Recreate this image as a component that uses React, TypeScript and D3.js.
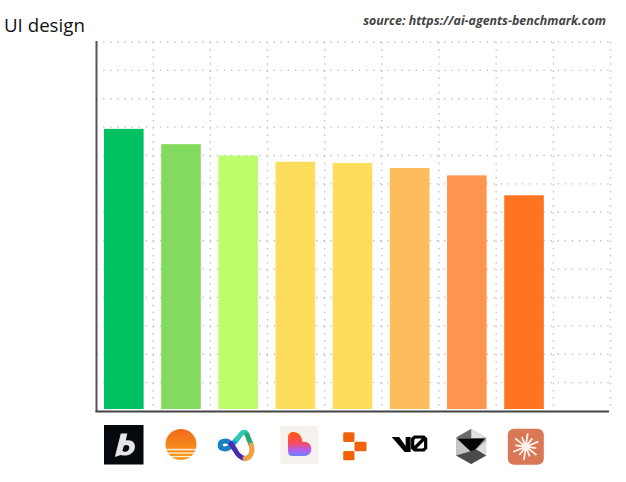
import * as d3 from "d3";
import React from "react";

const width = 626;
const height = 482;

const agents = ["bolt", "sonnet", "stitch", "lovable", "replit", "v0", "windsurf", "claude", ""];
const scores = [49.7, 47.0, 45.0, 43.9, 43.7, 42.8, 41.5, 38.0];
const colors = ["#00c162", "#84da5c", "#bdfd6c", "#ffdc5c", "#ffdc5c", "#ffbc5c", "#ff9450", "#ff7420"];
const yTicks = d3.range(0, 70, 5);

const x = d3.scaleBand().domain(agents).range([96, 609]).paddingInner(0.307).paddingOuter(0.14);
const step = x.step();
const gridX = d3.range(1, agents.length + 1).map((i) => 96 + i * step);
const y = d3.scaleLinear().domain([0, 65]).range([411, 42]);

const sunStripes = [[3.8, 1.5], [7.4, 1.3], [11, 1.1]];
const claudeRays = d3.range(0, 360, 30);

const Logo: React.FC<{ name: string }> = ({ name }) => {
    switch (name) {
        case "bolt":
            return (
                <g>
                    <rect x={-19.8} y={-20} width={39.5} height={39.5} fill="#05090d" />
                    <path
                        d="M-3,-11.5 L3.5,-11.5 L2,-4.5 C8,-6 12,-2 11,3 C10,9 3,12 -3,10 L-9,12 Z M0,1 L-1.5,6 C2,8 5,6 5.5,3 C6,0 2,-1 0,1 Z"
                        fill="#e6e6e6"
                        fillRule="evenodd"
                    />
                </g>
            );
        case "sonnet":
            return (
                <g>
                    <circle r={15.5} cy={-0.5} fill="url(#sun)" />
                    {sunStripes.map(([dy, h]) => (
                        <rect key={dy} x={-16} y={dy} width={32} height={h} fill="#fff" opacity={0.85} />
                    ))}
                </g>
            );
        case "stitch":
            return (
                <g fill="none" strokeWidth={5} strokeLinecap="round">
                    <path d="M-7,-1 C-10,-5 -18,-5 -18,0 C-18,5 -11,5 -7,1" stroke="#1b7fc4" />
                    <path d="M-7,1 L-1,-6" stroke="#1a9ccc" />
                    <path d="M-1,-6 L3,-11 C5,-14 8,-13 9,-10" stroke="#2cc8b0" />
                    <path d="M9,-10 L13,0" stroke="#2aa878" />
                    <path d="M-7,-1 L-3,5 C-1,9 2,13 7,13.5" stroke="#4a2cb0" />
                    <path d="M7,13.5 C13,13 15,6 13,0" stroke="#f2a040" />
                </g>
            );
        case "lovable":
            return (
                <g>
                    <rect x={-15} y={-19} width={38} height={38} fill="#f5f1ec" />
                    <path
                        d="M-2,-13 C3,-13 7,-9 7,-3 C12,-4 16,-1 16,4 C16,8 13,11 9,11 L-3,11 C-6,11 -7.3,9 -7.3,6 L-7.3,-8 C-7.3,-11 -5,-13 -2,-13 Z"
                        fill="url(#heart)"
                    />
                </g>
            );
        case "replit":
            return (
                <g fill="#f26207">
                    <rect x={-9.3} y={-12.7} width={11.3} height={9.6} rx={1.5} />
                    <rect x={2} y={-3.3} width={12} height={9.6} rx={1.5} />
                    <rect x={-9.3} y={6} width={11.3} height={9.2} rx={1.5} />
                </g>
            );
        case "v0":
            return (
                <g>
                    <path d="M-18,-8 L-10.5,-8 L-4,1 L-4,-8 L1,-8 L1,7 L-5,7 Z" fill="#000" />
                    <path
                        d="M5,-8 L14,-8 L16,-6 L16,3 L14,5 L5,5 L3,3 L3,-6 Z M5,3 L14,-6"
                        fill="none"
                        stroke="#000"
                        strokeWidth={3.2}
                    />
                </g>
            );
        case "windsurf":
            return (
                <g transform="translate(4.3,1.5)">
                    <path d="M0,-17.5 L15,-9 L15,9 L0,17.5 L-15,9 L-15,-9 Z" fill="#9a9a9a" />
                    <path d="M0,-17.5 L15,-9 L0,-8 Z" fill="#e2e2e2" />
                    <path d="M0,-17.5 L-15,-9 L0,-8 Z" fill="#6a6a6a" />
                    <path d="M-14,-8 L14,-8 L1,6.5 Z" fill="#050505" />
                    <path d="M-15,-8 L1,6.5 L-15,9 Z" fill="#c4c4c4" />
                    <path d="M15,-6 L15,9 L5,3 Z" fill="#dcdcdc" />
                    <path d="M-15,9 L5,3 L15,9 L0,17.5 Z" fill="#4a4a4a" />
                </g>
            );
        case "claude":
            return (
                <g transform="translate(1.8,1.7)">
                    <rect x={-18} y={-18} width={36} height={36} rx={6} fill="#d97757" />
                    {claudeRays.map((a, i) => (
                        <line
                            key={a}
                            y1={-3}
                            y2={i % 2 ? -10.5 : -13.5}
                            stroke="#fdf3ec"
                            strokeWidth={1.8}
                            transform={`rotate(${a + 8})`}
                        />
                    ))}
                    <circle r={4} fill="#fdf3ec" />
                </g>
            );
        default:
            return null;
    }
};

export default function App() {
    const logos = agents.filter((a) => a !== "");
    return (
        <svg
            width={width}
            height={height}
            viewBox={`0 0 ${width} ${height}`}
            style={{ position: "absolute", left: 0, top: 0, background: "#fff" }}
        >
            <defs>
                <linearGradient id="sun" x1="0" y1="0" x2="0" y2="1">
                    <stop offset="0" stopColor="#f26a1b" />
                    <stop offset="1" stopColor="#f9a01e" />
                </linearGradient>
                <linearGradient id="heart" x1="0" y1="0" x2="0" y2="1">
                    <stop offset="0" stopColor="#ff5a0a" />
                    <stop offset="0.45" stopColor="#fb4a5c" />
                    <stop offset="0.75" stopColor="#b45ef0" />
                    <stop offset="1" stopColor="#6a80f8" />
                </linearGradient>
            </defs>

            <text x={4} y={32} fontFamily="'Open Sans'" fontSize={18.7} fill="#111">UI design</text>
            <text
                x={606}
                y={25}
                textAnchor="end"
                fontFamily="'Open Sans'"
                fontSize={12.4}
                fontWeight={700}
                fontStyle="italic"
                fill="#444"
            >
                source: https://ai-agents-benchmark.com
            </text>

            {yTicks.slice(1).map((t) => (
                <line key={t} x1={96} x2={609} y1={y(t)} y2={y(t)} stroke="#c4c4c4" strokeWidth={1.4} strokeDasharray="1.5 5.6" />
            ))}
            {gridX.map((gx) => (
                <line key={gx} x1={gx} x2={gx} y1={42} y2={411} stroke="#c4c4c4" strokeWidth={1.4} strokeDasharray="1.5 5.6" />
            ))}

            {scores.map((s, i) => (
                <rect
                    key={agents[i]}
                    x={x(agents[i])}
                    y={y(s)}
                    width={x.bandwidth()}
                    height={y(0) - y(s) - 2}
                    fill={colors[i]}
                />
            ))}

            <line x1={96.5} x2={96.5} y1={41} y2={412} stroke="#555" strokeWidth={2} />
            <line x1={95.5} x2={609} y1={411.5} y2={411.5} stroke="#444" strokeWidth={2} />

            {logos.map((name) => (
                <g key={name} transform={`translate(${(x(name) as number) + x.bandwidth() / 2},445)`}>
                    <Logo name={name} />
                </g>
            ))}
        </svg>
    );
}
